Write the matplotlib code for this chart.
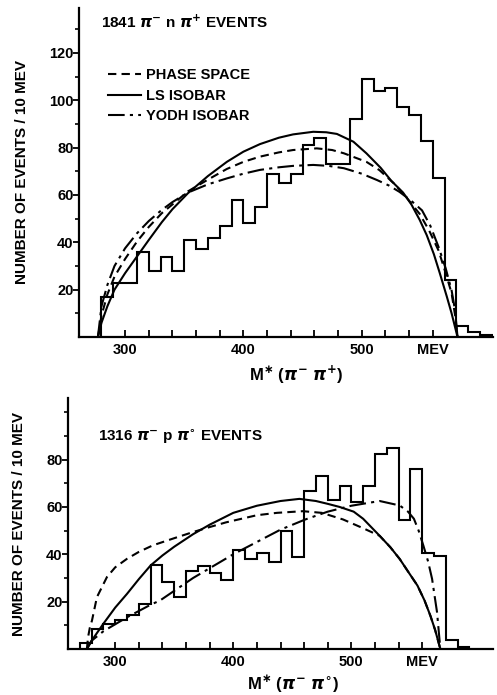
import matplotlib
matplotlib.use("Agg")
import matplotlib.pyplot as plt

plt.rcParams['font.family'] = ['Liberation Sans', 'DejaVu Sans']
plt.rcParams['font.weight'] = 'bold'
plt.rcParams['mathtext.fontset'] = 'dejavusans'

# ---------------- pi- pi+ spectrum (1841 events) ----------------
top_edges = list(range(280, 620, 10))
top_counts = [17, 23, 23, 36, 28, 34, 28, 41, 37, 42,
              47, 58, 48, 55, 69, 65, 69, 81, 84, 73,
              73, 92, 109, 104, 105, 97, 94, 83, 67, 24,
              4.5, 2, 1]

top_ls_mev = [277, 280, 285, 291, 300, 310, 320, 331, 340, 353, 370, 386, 400, 414,
              430, 442, 459, 470, 479, 493, 504, 516, 525, 535, 542, 549, 555, 561,
              566, 572, 576, 579, 581]
top_ls_val = [0, 6, 13, 20, 27, 34, 41, 48.5, 54, 60.7, 68, 74, 78.3, 81.5,
              84.2, 85.6, 86.7, 86.5, 85.8, 82.5, 77.6, 71.5, 66, 61, 56, 49.5, 43, 35,
              27, 17, 10, 4, 0]

top_ps_mev = [277, 280, 285, 291, 300, 310, 320, 331, 340, 353, 370, 386, 400, 414,
              430, 442, 462, 475, 485, 504, 515, 527, 537, 549, 557, 565, 571, 576,
              579, 581]
top_ps_val = [0, 9, 18, 25.5, 33, 40.3, 46.5, 52.3, 56, 61.5, 66.5, 71, 74, 76.2,
              78, 79, 79.7, 79, 77.6, 74, 70.5, 65, 59.5, 52, 45, 36.5, 27, 18.5,
              9, 0]

top_yo_mev = [277, 280, 285, 291, 300, 310, 320, 331, 340, 353, 370, 386, 400, 414,
              430, 442, 459, 472, 485, 500, 513, 523, 532, 542, 551, 558, 565, 571,
              576, 579, 581]
top_yo_val = [0, 13, 22, 30, 37.5, 43.8, 49, 53.7, 57, 61, 64.5, 67, 69, 70.6,
              71.7, 72.3, 72.7, 72.3, 71.3, 69, 66.3, 64, 61.3, 57.5, 53.5, 47, 38, 29,
              19.7, 11, 0]

# ---------------- pi- pi0 spectrum (1316 events) ----------------
bot_edges = list(range(270, 610, 10))
bot_counts = [2.5, 8.5, 10.4, 12.3, 14.2, 19.1, 35.4, 28.2, 22, 33.1,
              34.9, 32.1, 29.3, 41.6, 38.2, 40.6, 36.8, 49.7, 38.7, 66.6,
              73, 63.1, 69, 62, 68.8, 82.4, 85, 54.4, 76.1, 40.6,
              39.2, 3.8, 1]

bot_ls_mev = [276, 280, 290, 300, 310, 320, 330, 340, 350, 366, 380, 400, 420, 440,
              456, 470, 480, 490, 502, 510, 524, 533, 541, 549, 556, 562, 567, 571,
              575.4]
bot_ls_val = [0, 3.5, 10.7, 17.5, 23.3, 29.5, 35.3, 39.5, 43.2, 48.5, 52.5, 57.5, 60.5, 62.5,
              63.4, 62.5, 61.3, 60, 58, 55, 47.8, 43, 38, 32, 26.8, 20.5, 14, 8,
              0]

bot_ps_mev = [276, 277, 278.5, 280.3, 284.5, 293, 300, 310, 320, 332, 350, 366, 380, 394,
              420, 437, 459, 475, 493, 510, 524, 533, 541, 549, 556, 562, 567, 571,
              575.4]
bot_ps_val = [0, 5, 9, 12, 21.9, 30.4, 34.5, 38.1, 41, 43.8, 46.8, 49.4, 51.5, 53.5,
              56.5, 57.5, 58.2, 57.5, 54.7, 51, 47.8, 43, 38, 32, 26.8, 20.5, 14, 8,
              0]

bot_yo_mev = [276, 280, 290, 310, 330, 338, 366, 400, 440, 461, 480, 500, 524, 541,
              548, 553, 557, 561, 565, 568.4, 572.6, 575.4]
bot_yo_val = [0, 3.5, 7.5, 13.4, 18.7, 20.5, 30, 40, 50.4, 54.7, 58, 60.5, 62.5, 60.6,
              58, 55, 50, 43.7, 37, 29.6, 15.5, 0]

x_major = [300, 400, 500, 560]
x_major_labels = ['300', '400', '500', 'MEV']
x_minor = list(range(300, 580, 20))

LW = 1.5
DASH = (0, (4, 2.5))
DASHDOT = (0, (8, 2.5, 1.5, 2.5))

W, H = 497, 695
fig = plt.figure(figsize=(W / 100, H / 100), dpi=100)


def make_axes(left, right, top, bottom):
    return fig.add_axes([left / W, 1 - bottom / H, (right - left) / W, (bottom - top) / H])


def style(ax, xlim, ylim, yticks):
    ax.set_xlim(*xlim)
    ax.set_ylim(*ylim)
    for s in ('top', 'right'):
        ax.spines[s].set_visible(False)
    for s in ('left', 'bottom'):
        ax.spines[s].set_linewidth(1.6)
    ax.set_xticks(x_major)
    ax.set_xticklabels(x_major_labels)
    ax.set_xticks(x_minor, minor=True)
    ax.set_yticks(yticks)
    ax.set_yticklabels([str(v) for v in yticks])
    ax.set_yticks(list(range(10, int(ylim[1]), 10)), minor=True)
    ax.tick_params(axis='x', which='both', direction='in', length=5, width=1.3,
                   labelsize=10.5, pad=4)
    ax.tick_params(axis='y', which='major', direction='out', length=4, width=1.3,
                   labelsize=10.5, pad=0)
    ax.tick_params(axis='y', which='minor', direction='out', length=3, width=1.2)
    for lab in ax.get_xticklabels() + ax.get_yticklabels():
        lab.set_fontweight('bold')


def draw(ax, edges, counts, ps, ls, yo):
    ax.stairs(counts, edges, baseline=0, color='black', lw=LW)
    ax.plot(ps[0], ps[1], color='black', lw=LW, ls=DASH, label='PHASE SPACE')
    ax.plot(ls[0], ls[1], color='black', lw=LW, ls='-', label='LS ISOBAR')
    ax.plot(yo[0], yo[1], color='black', lw=LW, ls=DASHDOT, label='YODH ISOBAR')


# upper panel
ax1 = make_axes(79, 493, 8, 337)
draw(ax1, top_edges, top_counts,
     (top_ps_mev, top_ps_val), (top_ls_mev, top_ls_val), (top_yo_mev, top_yo_val))
style(ax1, (261, 611), (0, 139), [20, 40, 60, 80, 100, 120])
ax1.text(0.052, 0.955, r'1841 $\pi^{-}$ n $\pi^{+}$ EVENTS', transform=ax1.transAxes,
         fontsize=11, fontweight='bold', va='center', ha='left')
ax1.legend(loc='upper left', bbox_to_anchor=(0.055, 0.835), frameon=False,
           handlelength=2.3, handletextpad=0.35, labelspacing=0.45,
           prop={'weight': 'bold', 'size': 10.5}, borderaxespad=0)
ax1.set_ylabel('NUMBER OF EVENTS / 10 MEV', fontsize=11, fontweight='bold', labelpad=14)
ax1.set_xlabel(r'M$^{\ast}$ ($\pi^{-}$ $\pi^{+}$)', fontsize=12, fontweight='bold')
ax1.xaxis.set_label_coords(0.524, -0.08)

# lower panel
ax2 = make_axes(68, 493, 398, 649)
draw(ax2, bot_edges, bot_counts,
     (bot_ps_mev, bot_ps_val), (bot_ls_mev, bot_ls_val), (bot_yo_mev, bot_yo_val))
style(ax2, (260, 620), (0, 106), [20, 40, 60, 80])
ax2.text(0.07, 0.845, r'1316 $\pi^{-}$ p $\pi^{\circ}$ EVENTS', transform=ax2.transAxes,
         fontsize=11, fontweight='bold', va='center', ha='left')
ax2.set_ylabel('NUMBER OF EVENTS / 10 MEV', fontsize=11, fontweight='bold', labelpad=14)
ax2.set_xlabel(r'M$^{\ast}$ ($\pi^{-}$ $\pi^{\circ}$)', fontsize=12, fontweight='bold')
ax2.xaxis.set_label_coords(0.53, -0.098)

fig.savefig('out.png', dpi=100)
